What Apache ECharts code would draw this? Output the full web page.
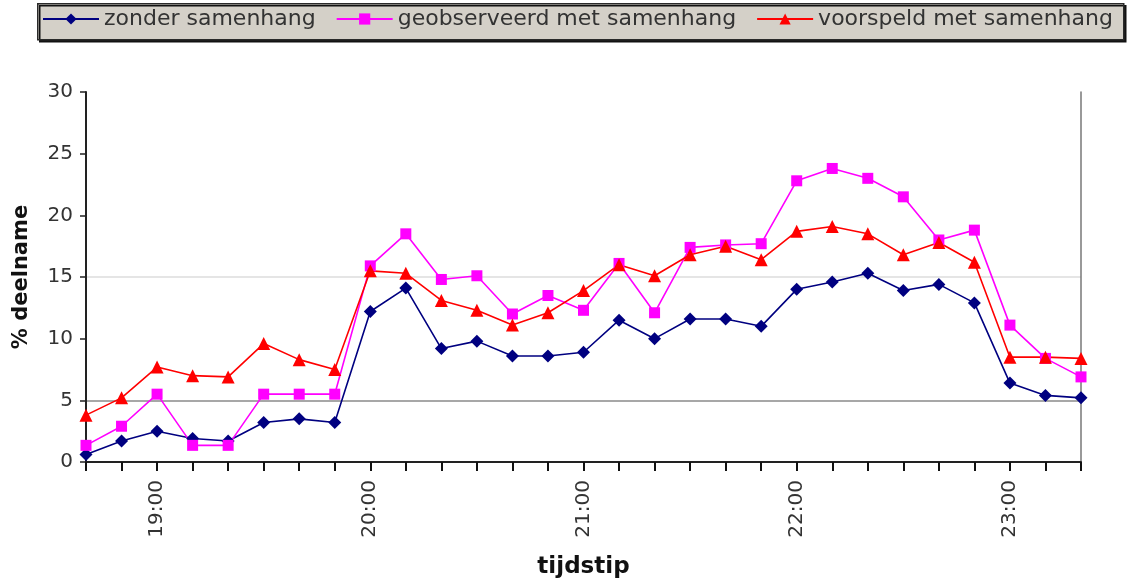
<!DOCTYPE html>
<html><head><meta charset="utf-8">
<script src="https://cdn.jsdelivr.net/npm/echarts@6/dist/echarts.min.js"></script>
<style>html,body{margin:0;padding:0;background:#fff}#c{width:1129px;height:584px}</style>
</head><body><div id="c"></div>
<script>
var categories = ['18:40','18:50','19:00','19:10','19:20','19:30','19:40','19:50','20:00','20:10','20:20','20:30','20:40','20:50','21:00','21:10','21:20','21:30','21:40','21:50','22:00','22:10','22:20','22:30','22:40','22:50','23:00','23:10','23:20'];
var zonder = [0.6,1.7,2.5,1.9,1.7,3.2,3.5,3.2,12.2,14.1,9.2,9.8,8.6,8.6,8.9,11.5,10.0,11.6,11.6,11.0,14.0,14.6,15.3,13.9,14.4,12.9,6.4,5.4,5.2];
var geobserveerd = [1.35,2.9,5.5,1.35,1.35,5.5,5.5,5.5,15.9,18.5,14.8,15.1,12.0,13.5,12.3,16.1,12.1,17.4,17.6,17.7,22.8,23.8,23.0,21.5,18.0,18.8,11.1,8.4,6.9];
var voorspeld = [3.8,5.2,7.7,7.0,6.9,9.6,8.3,7.5,15.5,15.3,13.1,12.3,11.1,12.1,13.9,16.0,15.1,16.8,17.5,16.4,18.7,19.1,18.5,16.8,17.8,16.2,8.5,8.5,8.4];
var seriesNames = ['zonder samenhang','geobserveerd met samenhang','voorspeld met samenhang'];
var yTicks = [0,5,10,15,20,25,30];

var font = 'DejaVu Sans';
var chart = echarts.init(document.getElementById('c'), null, {renderer:'canvas'});
function mk(name, data, color, symbol, size) {
  return {name:name, type:'line', data:data, symbol:symbol, symbolSize:size,
    lineStyle:{color:color, width:1.6}, itemStyle:{color:color}, animation:false};
}
chart.setOption({
  animation:false,
  textStyle:{fontFamily:font},
  graphic:[{type:'rect', left:37, top:3, shape:{width:1086, height:36},
    style:{fill:'#d4d0c8', stroke:'#2a2a2a', lineWidth:1.5, shadowColor:'#111', shadowOffsetX:2, shadowOffsetY:2, shadowBlur:0}, z:-10}],
  legend:{left:42, top:8, padding:0, itemWidth:56, itemHeight:14, itemGap:20,
    textStyle:{fontFamily:font, fontSize:22, color:'#333'},
    data:seriesNames},
  grid:{left:86, right:48, top:92, bottom:121},
  xAxis:[{type:'category', data:categories, boundaryGap:false,
    axisLine:{show:false},
    axisTick:{show:true, alignWithLabel:true, interval:0, length:9, lineStyle:{color:'#111', width:2}},
    axisLabel:{interval:function(i,v){return v.slice(-3)===':00';}, rotate:90, margin:18,
      fontFamily:font, fontSize:20, color:'#333'},
    name:'tijdstip', nameLocation:'middle', nameGap:94,
    nameTextStyle:{fontFamily:font, fontSize:23, fontWeight:'bold', color:'#111'},
    splitLine:{show:false}},
   {type:'category', data:categories, boundaryGap:false, position:'top',
    axisLine:{show:true, lineStyle:{color:'#222', width:2}}, axisTick:{show:false}, axisLabel:{show:false}}],
  yAxis:[{type:'value', min:yTicks[0], max:yTicks[yTicks.length-1], interval:5,
    axisLine:{show:true, lineStyle:{color:'#222', width:2}},
    axisTick:{show:true, length:6, lineStyle:{color:'#222', width:1.5}},
    axisLabel:{margin:13, fontFamily:font, fontSize:20, color:'#333'},
    splitLine:{show:true, lineStyle:{color:['rgba(0,0,0,0)','#8a8a8a','rgba(0,0,0,0)','#dcdcdc','rgba(0,0,0,0)','rgba(0,0,0,0)','rgba(0,0,0,0)'], width:1.5}},
    name:'% deelname', nameLocation:'middle', nameGap:54,
    nameTextStyle:{fontFamily:font, fontSize:21, fontWeight:'bold', color:'#111'}},
   {type:'value', min:0, max:30, interval:5, position:'right',
    axisLine:{show:true, lineStyle:{color:'#777', width:1.5}}, axisTick:{show:false}, axisLabel:{show:false}, splitLine:{show:false}}],
  series:[
    mk(seriesNames[0], zonder, '#000080', 'diamond', 13),
    mk(seriesNames[1], geobserveerd, '#ff00ff', 'rect', 11),
    mk(seriesNames[2], voorspeld, '#ff0000', 'triangle', 13)
  ]
});
</script></body></html>
